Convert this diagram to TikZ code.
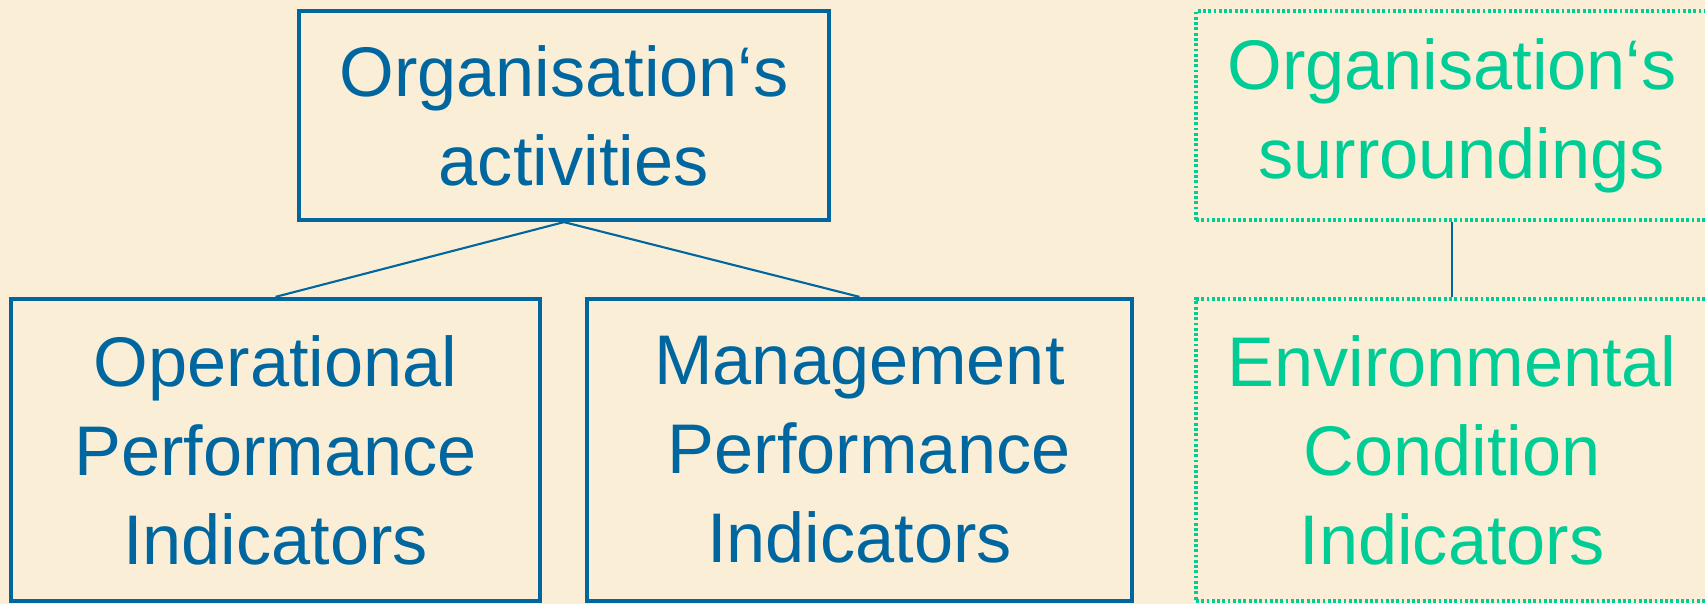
\documentclass[tikz,border=0pt]{standalone}
\usepackage{fontspec}
\setmainfont{Liberation Sans}
\definecolor{paper}{RGB}{250,239,214}
\definecolor{actblue}{RGB}{0,102,160}
\definecolor{envgreen}{RGB}{0,204,150}
\begin{document}
\begin{tikzpicture}[scale=1]
 \tikzstyle{actbox}=[rectangle, draw=actblue, line width=1.2pt, inner sep=0pt, align=center, text=actblue, font=\fontsize{20}{25.3}\selectfont]
 \tikzstyle{envbox}=[rectangle, draw=envgreen, line width=0.9pt, dash pattern=on 0.8pt off 0.7pt, inner sep=0pt, align=center, text=envgreen, font=\fontsize{20}{25.3}\selectfont]
\fill[paper] (0,0) rectangle (17.05,-6.04);
\useasboundingbox (0,0) rectangle (17.05,-6.04);
% activities side
\draw (5.64,-1.155) node[actbox, minimum width=5.30cm, minimum height=2.09cm] (act) {Organisation‘s\\\hspace*{5.5pt}activities};
\draw (2.755,-4.50) node[actbox, minimum width=5.29cm, minimum height=3.02cm] (opi) {Operational\\Performance\\Indicators};
\draw (8.595,-4.50) node[actbox, minimum width=5.45cm, minimum height=3.02cm] (mpi) {Management\\\hspace*{5.5pt}Performance\\Indicators};
% surroundings side
\draw (14.52,-1.155) node[envbox, minimum width=5.12cm, minimum height=2.09cm] (sur) {Organisation‘s\\\hspace*{5.5pt}surroundings};
\draw (14.52,-4.50) node[envbox, minimum width=5.12cm, minimum height=3.02cm] (eci) {Environmental\\Condition\\Indicators};
\draw[color=actblue, line width=0.6pt] (act.south) -- (opi.north);
\draw[color=actblue, line width=0.6pt] (act.south) -- (mpi.north);
\draw[color=actblue, line width=0.6pt] (sur.south) -- (eci.north);
\end{tikzpicture}
\end{document}
